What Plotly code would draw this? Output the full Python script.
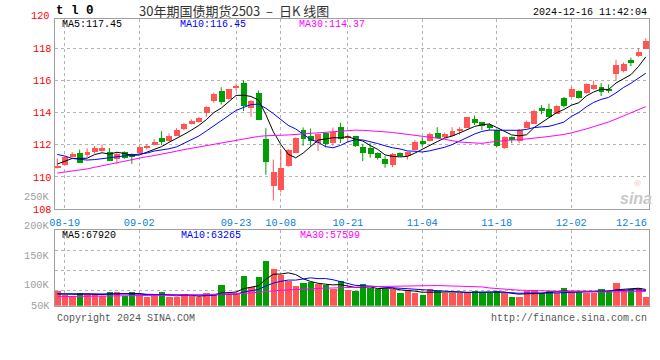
import plotly.graph_objects as go

# ---------------- data ----------------
dates = ["08-16",
         "08-19", "08-20", "08-21", "08-22", "08-23", "08-26", "08-27", "08-28", "08-29", "08-30",
         "09-02", "09-03", "09-04", "09-05", "09-06", "09-09", "09-10", "09-11", "09-12", "09-13",
         "09-18", "09-19", "09-20", "09-23", "09-24", "09-25", "09-26", "09-27", "09-30",
         "10-08", "10-09", "10-10", "10-11", "10-14", "10-15", "10-16", "10-17", "10-18",
         "10-21", "10-22", "10-23", "10-24", "10-25", "10-28", "10-29", "10-30", "10-31", "11-01",
         "11-04", "11-05", "11-06", "11-07", "11-08", "11-11", "11-12", "11-13", "11-14", "11-15",
         "11-18", "11-19", "11-20", "11-21", "11-22", "11-25", "11-26", "11-27", "11-28", "11-29",
         "12-02", "12-03", "12-04", "12-05", "12-06", "12-09", "12-10", "12-11", "12-12", "12-13",
         "12-16"]

opens = [110.55, 110.78, 111.29, 111.53, 111.37, 111.60, 111.66, 111.60, 111.12, 111.60,
         111.47, 111.49, 111.80, 111.98, 112.45, 112.25, 112.58, 112.99, 113.33, 113.44,
         113.99, 114.76, 115.34, 114.85, 115.52, 115.89, 114.33, 115.22, 112.39, 109.45,
         109.24, 110.70, 111.53, 112.94, 112.55, 112.16, 112.76, 112.11, 113.13, 112.45,
         112.56, 111.90, 111.85, 111.53, 111.12, 110.75, 111.49, 111.31, 111.68, 112.25,
         112.25, 112.76, 112.52, 112.58, 112.92, 113.07, 113.62, 113.41, 113.27, 112.92,
         111.80, 112.52, 112.25, 113.09, 113.29, 114.29, 114.25, 113.95, 114.91, 114.97,
         115.38, 115.24, 115.48, 115.62, 115.42, 116.40, 116.61, 117.28, 117.57, 118.00]
highs = [111.15, 111.29, 111.55, 111.70, 111.78, 111.92, 112.02, 111.80, 111.53, 111.60,
         111.47, 111.90, 112.04, 112.35, 112.84, 112.70, 113.03, 113.35, 113.58, 113.74,
         114.40, 115.24, 115.58, 115.46, 115.81, 116.01, 114.78, 115.38, 113.03, 111.08,
         111.74, 111.74, 112.46, 113.08, 113.01, 112.68, 112.76, 113.07, 113.37, 112.64,
         112.56, 112.02, 112.10, 111.53, 111.29, 111.49, 111.53, 111.58, 112.29, 112.47,
         112.76, 113.09, 112.76, 113.09, 113.09, 113.74, 113.82, 113.41, 113.33, 112.92,
         112.52, 112.52, 112.99, 113.50, 114.19, 114.46, 114.56, 114.46, 114.97, 115.58,
         115.38, 115.83, 115.99, 115.83, 115.75, 117.28, 117.12, 117.42, 118.00, 118.61]
lows = [110.52, 110.74, 111.20, 110.88, 111.23, 111.45, 111.57, 111.04, 110.82, 111.12,
        110.82, 111.45, 111.70, 111.96, 111.98, 112.20, 112.55, 112.90, 113.27, 113.37,
        113.74, 114.62, 114.50, 114.81, 115.35, 114.10, 113.74, 113.58, 110.14, 108.53,
        109.04, 110.63, 111.49, 111.94, 111.94, 111.62, 111.84, 111.95, 112.11, 112.13,
        111.86, 110.99, 111.19, 111.08, 110.57, 110.61, 111.29, 111.08, 111.66, 111.90,
        112.21, 112.41, 112.41, 112.52, 112.62, 113.03, 113.23, 112.92, 112.88, 111.86,
        111.74, 112.10, 112.10, 113.09, 113.29, 113.90, 113.70, 113.93, 114.31, 114.97,
        114.87, 115.17, 115.42, 115.03, 115.23, 115.99, 116.50, 116.89, 117.46, 118.00]
closes = [110.68, 111.23, 111.47, 110.88, 111.57, 111.80, 111.80, 111.04, 111.47, 111.19,
          111.25, 111.86, 111.94, 112.17, 112.21, 112.58, 112.97, 113.30, 113.50, 113.66,
          114.36, 115.17, 114.70, 115.46, 115.65, 114.44, 114.77, 113.58, 110.93, 110.31,
          110.55, 111.70, 112.46, 112.39, 112.23, 112.68, 112.06, 112.82, 112.39, 112.56,
          111.92, 111.49, 111.43, 111.19, 110.83, 111.46, 111.33, 111.58, 112.21, 112.07,
          112.68, 112.45, 112.66, 112.86, 113.03, 113.74, 113.39, 113.21, 113.09, 111.94,
          112.52, 112.31, 112.92, 113.44, 114.15, 114.15, 113.74, 114.46, 114.46, 115.48,
          114.93, 115.83, 115.71, 115.32, 115.38, 116.97, 117.05, 117.08, 117.79, 118.45]
volumes = [65000, 58300, 56700, 61100, 60000, 60000, 56700, 63300, 63300, 56700,
           63300, 58000, 54400, 56700, 63300, 55500, 54400, 60000, 56700, 54400,
           61700, 60000, 75000, 60000, 60000, 90000, 72200, 88300, 115000, 102200,
           91700, 82200, 73900, 78900, 80000, 76100, 74400, 67800, 81700, 66700,
           65000, 76700, 70000, 67800, 67800, 67800, 61700, 65600, 61700, 58300,
           68300, 64400, 61700, 61700, 61700, 63300, 65600, 61700, 61700, 65600,
           61700, 55000, 55000, 65000, 66700, 62200, 65000, 61700, 70000, 65000,
           65000, 61700, 61700, 68300, 65000, 78900, 66700, 68300, 70000, 55000]

# moving-average values before enough history exists
ma5_head = [110.80, 111.00, 111.15, 111.15]
ma10_head = [111.40, 111.30, 111.15, 111.08, 111.05, 111.08, 111.14, 111.20, 111.25]
ma30_head = [110.24, 110.30, 110.36, 110.43, 110.50, 110.60, 110.70, 110.78, 110.87, 110.98,
             111.10, 111.18, 111.26, 111.33, 111.41, 111.49, 111.60, 111.70, 111.78, 111.86,
             111.95, 112.03, 112.10, 112.18, 112.26, 112.36, 112.45, 112.52, 112.56]
vma5_head = [60000, 59500, 59000, 59500]
vma10_head = [60500, 60300, 60000, 59800, 59800, 59800, 59800, 59900, 60000]
vma30_head = [55500, 55600, 55700, 55800, 55900, 56000, 56100, 56300, 56500, 56700,
              56900, 57100, 57300, 57500, 57700, 57900, 58100, 58300, 58500, 58700,
              58900, 59100, 59400, 59700, 60000, 61000, 61800, 62600, 63500]

tick_dates = ["08-19", "09-02", "09-23", "10-08", "10-21", "11-04", "11-18", "12-02"]
last_date_label = "12-16"
price_ticks = [108, 110, 112, 114, 116, 118]
price_top_label = 120
vol_grid = [66667, 100000, 133333]
vol_labels = [50000, 100000, 150000, 200000, 250000]

title_text = "30年期国债期货2503\u00a0\u00a0–\u00a0\u00a0日K\u00a0线图"
symbol_text = "t l 0"
time_text = "2024-12-16 11:42:04"
ma_price_text = ["MA5:117.45", "MA10:116.45", "MA30:114.37"]
ma_vol_text = ["MA5:67920", "MA10:63265", "MA30:57599"]

# ---------------- styling ----------------
W, H = 660, 360
RED = "#FF5555"
GREEN = "#009E00"
MA_COLORS = ["#000000", "#0000FF", "#FF00FF"]
GRID = "#B4B4B4"
BORDER = "#A0A0A0"
MONO = "Liberation Mono, DejaVu Sans Mono, monospace"
DATE_BLUE = "#0A7FD8"

def px(x):
    return x / W

def py(y):
    return 1 - y / H

X_DOM = [px(50), px(649)]
P_DOM = [py(213), py(19)]
V_DOM = [py(311), py(234)]
P_RANGE = [107.98, 119.84]
V_RANGE = [40000, 168333]

n = len(dates)
idx = list(range(n))


def moving_average(values, k, head):
    out = list(head)
    for i in range(len(head), len(values)):
        out.append(sum(values[i - k + 1:i + 1]) / k)
    return out


def to_paper(v, dom, rng):
    """value on an axis -> paper fraction (works outside the visible range)"""
    return dom[0] + (v - rng[0]) / (rng[1] - rng[0]) * (dom[1] - dom[0])


up = [c >= o for o, c in zip(opens, closes)]
colors = [RED if u else GREEN for u in up]

fig = go.Figure()

# wicks
for flag, col in ((True, RED), (False, GREEN)):
    wx, wy = [], []
    for i in idx:
        if up[i] == flag:
            wx += [i, i, None]
            wy += [lows[i], highs[i], None]
    fig.add_trace(go.Scatter(x=wx, y=wy, mode="lines", line=dict(color=col, width=1),
                             hoverinfo="skip", xaxis="x", yaxis="y"))

# bodies
bases = [min(o, c) for o, c in zip(opens, closes)]
heights = [max(abs(c - o), 0.05) for o, c in zip(opens, closes)]
fig.add_trace(go.Bar(x=idx, y=heights, base=bases, width=0.8,
                     marker=dict(color=colors, line=dict(width=0)),
                     xaxis="x", yaxis="y", hoverinfo="skip"))

# price MAs
for vals, col in zip((moving_average(closes, 5, ma5_head),
                      moving_average(closes, 10, ma10_head),
                      moving_average(closes, 30, ma30_head)), MA_COLORS):
    fig.add_trace(go.Scatter(x=idx, y=vals, mode="lines", line=dict(color=col, width=1),
                             xaxis="x", yaxis="y", hoverinfo="skip"))

# volume bars
fig.add_trace(go.Bar(x=idx, y=volumes, width=0.86,
                     marker=dict(color=colors, line=dict(width=0)),
                     xaxis="x2", yaxis="y2", hoverinfo="skip"))

for vals, col in zip((moving_average(volumes, 5, vma5_head),
                      moving_average(volumes, 10, vma10_head),
                      moving_average(volumes, 30, vma30_head)), MA_COLORS):
    fig.add_trace(go.Scatter(x=idx, y=vals, mode="lines", line=dict(color=col, width=1),
                             xaxis="x2", yaxis="y2", hoverinfo="skip"))

tickvals = [dates.index(d) for d in tick_dates]
x_range = [-0.36, n - 1 + 0.44]

axis_common = dict(showgrid=True, gridcolor=GRID, griddash="dot", gridwidth=1,
                   showline=True, linecolor=BORDER, linewidth=1, mirror=True,
                   zeroline=False, ticks="", fixedrange=True)

fig.update_layout(
    width=W, height=H, margin=dict(l=0, r=0, t=0, b=0),
    paper_bgcolor="white", plot_bgcolor="white",
    showlegend=False, barmode="overlay", bargap=0,
    xaxis=dict(domain=X_DOM, range=x_range, anchor="y", tickmode="array",
               tickvals=tickvals, ticktext=tick_dates, ticklabelstandoff=3,
               tickfont=dict(family=MONO, size=10.3, color=DATE_BLUE), **axis_common),
    yaxis=dict(domain=P_DOM, range=P_RANGE, anchor="x", tickmode="array",
               tickvals=price_ticks, ticktext=[str(v) for v in price_ticks],
               tickfont=dict(family=MONO, size=10.3, color="#FF0000"), **axis_common),
    xaxis2=dict(domain=X_DOM, range=x_range, anchor="y2", matches="x", tickmode="array",
                tickvals=tickvals, showticklabels=False, **axis_common),
    yaxis2=dict(domain=V_DOM, range=V_RANGE, anchor="x2", tickmode="array",
                tickvals=vol_grid, showticklabels=False, **axis_common),
)

ann = []
def text(x, y, s, color="#000000", size=10, anchor="left", family=MONO, **kw):
    ann.append(dict(xref="paper", yref="paper", x=px(x), y=py(y), text=s, showarrow=False,
                    xanchor=anchor, yanchor="middle",
                    font=dict(family=family, size=size, color=color, **kw)))

# header
text(49, 11.5, symbol_text, size=12.5, weight="bold")
text(231, 11, title_text, color="#333333", size=13, anchor="center",
     family="Noto Sans CJK SC, sans-serif")
text(649, 12.5, time_text, anchor="right")

# MA legends
for s, col, x in zip(ma_price_text, MA_COLORS, (55, 174, 294)):
    text(x, 24.5, s, color=col)
for s, col, x in zip(ma_vol_text, MA_COLORS, (55, 175, 295)):
    text(x, 239.5, s, color=col)

# price label above panel
ann.append(dict(xref="paper", yref="paper", x=px(47),
                y=to_paper(price_top_label, P_DOM, P_RANGE), text=str(price_top_label),
                showarrow=False, xanchor="right", yanchor="middle",
                font=dict(family=MONO, size=10.3, color="#FF0000")))

# volume labels (drawn just below their value, clamped at the panel bottom)
for v in vol_labels:
    yv = to_paper(v, V_DOM, V_RANGE) - 15 / H
    yv = max(yv, V_DOM[0])
    ann.append(dict(xref="paper", yref="paper", x=px(47), y=yv,
                    text=f"{v // 1000}K", showarrow=False, xanchor="right", yanchor="middle",
                    font=dict(family=MONO, size=10.3, color="#A0A0A0")))

# last date label, kept inside the frame
text(649, 227, last_date_label, color=DATE_BLUE, size=10.3, anchor="right")

# footer
text(50, 324, "Copyright 2024 SINA.COM", color="#555555")
text(649, 324, "http://finance.sina.com.cn", color="#555555", anchor="right")

# watermark
text(637, 186, "◎", color="#F2B4B4", size=8, anchor="center", family="DejaVu Sans")
text(636, 202, "sina", color="#C8C8C8", size=16, anchor="center",
     family="Liberation Sans, Arial", weight="bold", style="italic")

fig.update_layout(annotations=ann)
fig.write_html("out.html")
